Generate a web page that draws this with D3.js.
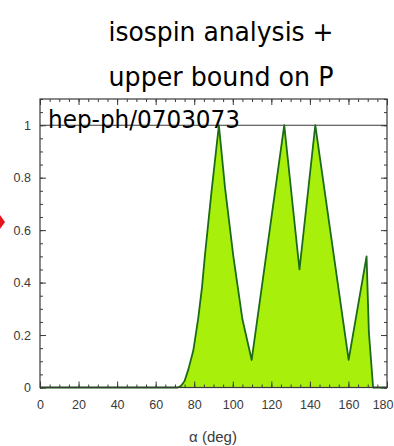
<!DOCTYPE html>
<html>
<head>
<meta charset="utf-8">
<script src="https://cdn.jsdelivr.net/npm/d3@7/dist/d3.min.js"></script>
<style>
  html, body { margin: 0; padding: 0; background: #fff; }
  svg { display: block; }
</style>
</head>
<body>
<svg id="chart" width="394" height="446"></svg>
<script>
// Probability (confidence level) versus the CKM angle alpha
const alphaDeg = [0, 71.5, 73, 75, 77, 79.5, 82, 84, 85.5, 89, 92.8, 96, 100.3, 105, 109.8,
                  126.7, 134.6, 142.8, 160.1, 169.4, 170.6, 172.8, 180];
const prob     = [0, 0, 0.005, 0.025, 0.07, 0.14, 0.26, 0.38, 0.5, 0.75, 1.0, 0.76, 0.5, 0.26, 0.105,
                  1.0, 0.45, 1.0, 0.105, 0.5, 0.21, 0, 0];

const xTicks = [0, 20, 40, 60, 80, 100, 120, 140, 160, 180];
const yTicks = [0, 0.2, 0.4, 0.6, 0.8, 1];
const yTickLabels = ["0", "0.2", "0.4", "0.6", "0.8", "1"];
const titleLines = ["isospin analysis +", "upper bound on P"];
const refLabel = "hep-ph/0703073";
const xTitle = "α (deg)";

const svg = d3.select("#chart");
const L = 40, R = 387, T = 99, B = 387.5;
const W = +svg.attr("width");

const x = d3.scaleLinear().domain([0, 180]).range([L, R]);
const y = d3.scaleLinear().domain([0, 1.1]).range([B, T]);

const pts = alphaDeg.map((a, i) => [a, prob[i]]);

// filled region under the curve
svg.append("path")
  .datum(pts)
  .attr("fill", "#a8f00c")
  .attr("d", d3.area().x(d => x(d[0])).y0(y(0)).y1(d => y(d[1])));

// reference line at 1
svg.append("line")
  .attr("x1", L).attr("x2", R)
  .attr("y1", y(1)).attr("y2", y(1))
  .attr("stroke", "#3a3a3a").attr("stroke-width", 1.2);

// curve outline
svg.append("path")
  .datum(pts)
  .attr("fill", "none")
  .attr("stroke", "#1c6b16")
  .attr("stroke-width", 1.8)
  .attr("stroke-linejoin", "round")
  .attr("d", d3.line().x(d => x(d[0])).y(d => y(d[1])));

// frame
svg.append("rect")
  .attr("x", L).attr("y", T).attr("width", R - L).attr("height", B - T)
  .attr("fill", "none").attr("stroke", "#3a3a3a").attr("stroke-width", 1.2);

const axisColor = "#3a3a3a";
const labelFont = "Liberation Sans, Arial, sans-serif";
function styleAxis(g) {
  g.select(".domain").remove();
  g.selectAll("line").attr("stroke", axisColor).attr("stroke-width", 1);
}
function styleLabels(g) {
  g.selectAll("text")
    .attr("fill", "#3a3a3a").attr("font-family", labelFont)
    .attr("font-size", 12.5);
}

const xMinor = d3.range(0, 181, 5);
const yMinor = d3.range(0, 1.101, 0.05);

// inward ticks on all four sides
svg.append("g").attr("transform", `translate(0,${B})`)
  .call(d3.axisBottom(x).tickValues(xMinor).tickSize(-3).tickFormat(""))
  .call(styleAxis);
svg.append("g").attr("transform", `translate(0,${B})`)
  .call(d3.axisBottom(x).tickValues(xTicks).tickSize(-6).tickPadding(13).tickFormat(d3.format("d")))
  .call(styleAxis)
  .call(styleLabels)
  // keep the last label inside the page edge
  .call(g => g.selectAll(".tick text")
    .filter(d => d === 180)
    .attr("text-anchor", "end")
    .attr("x", W - 1 - x(180)));
svg.append("g").attr("transform", `translate(0,${T})`)
  .call(d3.axisTop(x).tickValues(xMinor).tickSize(-3).tickFormat(""))
  .call(styleAxis);
svg.append("g").attr("transform", `translate(0,${T})`)
  .call(d3.axisTop(x).tickValues(xTicks).tickSize(-6).tickFormat(""))
  .call(styleAxis);

svg.append("g").attr("transform", `translate(${L},0)`)
  .call(d3.axisLeft(y).tickValues(yMinor).tickSize(-3).tickFormat(""))
  .call(styleAxis);
svg.append("g").attr("transform", `translate(${L},0)`)
  .call(d3.axisLeft(y).tickValues(yTicks).tickSize(-6).tickPadding(9)
    .tickFormat((d, i) => yTickLabels[i]))
  .call(styleAxis)
  .call(styleLabels);
svg.append("g").attr("transform", `translate(${R},0)`)
  .call(d3.axisRight(y).tickValues(yMinor).tickSize(-3).tickFormat(""))
  .call(styleAxis);
svg.append("g").attr("transform", `translate(${R},0)`)
  .call(d3.axisRight(y).tickValues(yTicks).tickSize(-6).tickFormat(""))
  .call(styleAxis);

const handFont = "'DejaVu Sans', sans-serif";

// reference label straddling the top of the plot
svg.append("text")
  .attr("x", 48).attr("y", 128)
  .attr("font-family", handFont)
  .attr("font-size", 24)
  .attr("textLength", 192).attr("lengthAdjust", "spacingAndGlyphs")
  .attr("fill", "#000")
  .text(refLabel);

// title
svg.selectAll(".title")
  .data(titleLines)
  .join("text")
  .attr("class", "title")
  .attr("x", 221)
  .attr("y", (d, i) => 41 + i * 45)
  .attr("text-anchor", "middle")
  .attr("font-family", handFont)
  .attr("font-size", 26)
  .attr("textLength", 225).attr("lengthAdjust", "spacingAndGlyphs")
  .attr("fill", "#000")
  .text(d => d);

// x-axis title
svg.append("text")
  .attr("x", 213).attr("y", 442)
  .attr("text-anchor", "middle")
  .attr("font-family", labelFont)
  .attr("font-size", 15)
  .attr("fill", "#3a3a3a")
  .text(xTitle);

// red pointer at the left edge
svg.append("path")
  .attr("d", "M0,215 L5,222 L0,229 Z")
  .attr("fill", "#e8141c");
</script>
</body>
</html>
